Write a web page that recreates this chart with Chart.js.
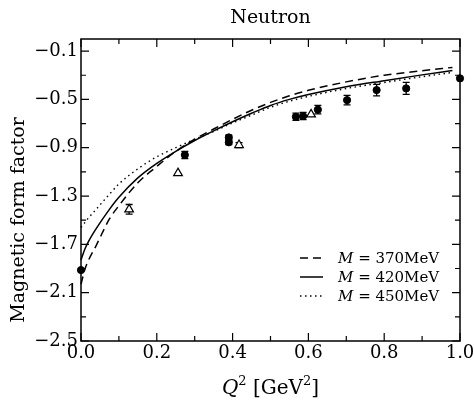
<!DOCTYPE html>
<html>
<head>
<meta charset="utf-8">
<script src="https://cdn.jsdelivr.net/npm/chart.js@4.4.0/dist/chart.umd.min.js"></script>
<style>
  html, body { margin: 0; padding: 0; background: #fff; }
</style>
</head>
<body>
<canvas id="grafico" width="474" height="405"></canvas>
<script>
// Curvas teóricas
const xCurva = [0, 0.01, 0.02, 0.04, 0.075, 0.1, 0.15, 0.2, 0.25, 0.3, 0.35, 0.4, 0.45, 0.5, 0.55, 0.6, 0.7, 0.8, 0.9, 0.98];
const curva370 = [-2.03, -1.91, -1.83, -1.71, -1.49, -1.38, -1.19, -1.055, -0.93, -0.83, -0.745, -0.665, -0.59, -0.525, -0.47, -0.425, -0.355, -0.30, -0.263, -0.235];
const curva420 = [-1.83, -1.74, -1.675, -1.57, -1.41, -1.31, -1.15, -1.03, -0.93, -0.84, -0.76, -0.685, -0.615, -0.55, -0.50, -0.46, -0.395, -0.345, -0.297, -0.26];
const curva450 = [-1.56, -1.52, -1.48, -1.41, -1.285, -1.20, -1.075, -0.975, -0.90, -0.83, -0.765, -0.695, -0.63, -0.565, -0.515, -0.475, -0.41, -0.36, -0.312, -0.277];
const rotulos = ['M = 370MeV', 'M = 420MeV', 'M = 450MeV'];

// Dados experimentais: círculos cheios
const xCirculos = [0, 0.274, 0.39, 0.39, 0.567, 0.586, 0.625, 0.702, 0.78, 0.858, 1.0];
const yCirculos = [-1.913, -0.96, -0.815, -0.855, -0.644, -0.638, -0.585, -0.506, -0.423, -0.409, -0.326];
const erroCirculos = [0, 0.03, 0.02, 0.02, 0.03, 0.03, 0.035, 0.04, 0.048, 0.05, 0];

// Dados experimentais: triângulos abertos
const xTriangulos = [0.127, 0.256, 0.417, 0.607];
const yTriangulos = [-1.41, -1.11, -0.878, -0.624];
const erroTriangulos = [0.04, 0, 0.02, 0];

// Marcas dos eixos
const xTicks = [0, 0.2, 0.4, 0.6, 0.8, 1.0];
const xTicksMenores = [0.1, 0.3, 0.5, 0.7, 0.9];
const yTicks = [-2.5, -2.1, -1.7, -1.3, -0.9, -0.5, -0.1];
const yTicksMenores = [-2.3, -1.9, -1.5, -1.1, -0.7, -0.3];

const fonte = '"DejaVu Serif", serif';
const estilos = [[8, 5], [], [1.5, 3.5]];

const pontos = (xs, ys) => xs.map((x, i) => ({ x: x, y: ys[i] }));

// Barras de erro desenhadas pelas escalas
const barrasErro = {
  id: 'barrasErro',
  beforeDatasetsDraw(chart) {
    const { ctx, scales: { x, y } } = chart;
    ctx.save();
    ctx.strokeStyle = '#000';
    ctx.lineWidth = 1.3;
    chart.data.datasets.forEach(ds => {
      if (!ds.erros) return;
      ds.data.forEach((p, i) => {
        const e = ds.erros[i];
        if (!e) return;
        const px = x.getPixelForValue(p.x);
        const y1 = y.getPixelForValue(p.y + e);
        const y2 = y.getPixelForValue(p.y - e);
        ctx.beginPath();
        ctx.moveTo(px, y1); ctx.lineTo(px, y2);
        ctx.moveTo(px - 3.5, y1); ctx.lineTo(px + 3.5, y1);
        ctx.moveTo(px - 3.5, y2); ctx.lineTo(px + 3.5, y2);
        ctx.stroke();
      });
    });
    ctx.restore();
  }
};

// Moldura, marcas internas, títulos e legenda
const moldura = {
  id: 'moldura',
  afterDraw(chart) {
    const { ctx, chartArea: a, scales: { x, y } } = chart;
    ctx.save();
    ctx.strokeStyle = '#000';
    ctx.lineWidth = 1.5;
    ctx.strokeRect(a.left, a.top, a.right - a.left, a.bottom - a.top);

    ctx.lineWidth = 1.2;
    ctx.beginPath();
    const marcaX = (v, len) => {
      const px = x.getPixelForValue(v);
      ctx.moveTo(px, a.bottom); ctx.lineTo(px, a.bottom - len);
      ctx.moveTo(px, a.top); ctx.lineTo(px, a.top + len);
    };
    const marcaY = (v, len) => {
      const py = y.getPixelForValue(v);
      ctx.moveTo(a.left, py); ctx.lineTo(a.left + len, py);
      ctx.moveTo(a.right, py); ctx.lineTo(a.right - len, py);
    };
    xTicks.forEach(v => marcaX(v, 8));
    xTicksMenores.forEach(v => marcaX(v, 5));
    yTicks.forEach(v => marcaY(v, 8));
    yTicksMenores.forEach(v => marcaY(v, 5));
    ctx.stroke();

    ctx.fillStyle = '#000';
    // título
    ctx.font = '19px ' + fonte;
    ctx.textAlign = 'center';
    ctx.textBaseline = 'alphabetic';
    ctx.fillText('Neutron', (a.left + a.right) / 2, 23);

    // título do eixo y
    ctx.save();
    ctx.translate(19, 220);
    ctx.rotate(-Math.PI / 2);
    ctx.textBaseline = 'middle';
    ctx.font = '19px ' + fonte;
    ctx.fillText('Magnetic form factor', 0, 0);
    ctx.restore();

    // título do eixo x: Q² [GeV²]
    const partes = [
      { t: 'Q', f: 'italic 20px ' + fonte, dy: 0 },
      { t: '2', f: '13px ' + fonte, dy: -9 },
      { t: ' [GeV', f: '20px ' + fonte, dy: 0 },
      { t: '2', f: '13px ' + fonte, dy: -9 },
      { t: ']', f: '20px ' + fonte, dy: 0 }
    ];
    ctx.textAlign = 'left';
    let largura = 0;
    partes.forEach(p => { ctx.font = p.f; p.w = ctx.measureText(p.t).width; largura += p.w; });
    let cx = (a.left + a.right) / 2 - largura / 2;
    partes.forEach(p => { ctx.font = p.f; ctx.fillText(p.t, cx, 394 + p.dy); cx += p.w; });

    // legenda
    const curvas = chart.data.datasets.filter(ds => ds.curva);
    curvas.forEach((ds, i) => {
      const ly = 258 + i * 19;
      ctx.save();
      ctx.lineWidth = ds.borderWidth;
      ctx.setLineDash(ds.borderDash);
      ctx.beginPath();
      ctx.moveTo(300, ly); ctx.lineTo(323, ly);
      ctx.stroke();
      ctx.restore();
      const [m, resto] = [ds.label.slice(0, 1), ds.label.slice(1)];
      ctx.font = 'italic 15px ' + fonte;
      ctx.fillText(m, 338, ly + 5);
      const wm = ctx.measureText(m).width;
      ctx.font = '15px ' + fonte;
      ctx.fillText(resto, 338 + wm, ly + 5);
    });
    ctx.restore();
  }
};

const conjuntosCurvas = [curva370, curva420, curva450].map((c, i) => ({
  label: rotulos[i],
  curva: true,
  data: pontos(xCurva, c),
  showLine: true,
  borderColor: '#000',
  borderWidth: i === 2 ? 1.4 : 1.5,
  borderDash: estilos[i],
  pointRadius: 0,
  tension: 0.3,
  cubicInterpolationMode: 'monotone',
  fill: false
}));

new Chart(document.getElementById('grafico'), {
  type: 'scatter',
  data: {
    datasets: [
      ...conjuntosCurvas,
      {
        label: 'circulos',
        data: pontos(xCirculos, yCirculos),
        erros: erroCirculos,
        pointStyle: 'circle',
        pointRadius: 3.6,
        backgroundColor: '#000',
        borderColor: '#000',
        borderWidth: 1
      },
      {
        label: 'triangulos',
        data: pontos(xTriangulos, yTriangulos),
        erros: erroTriangulos,
        pointStyle: 'triangle',
        pointRadius: 5,
        backgroundColor: '#fff',
        borderColor: '#000',
        borderWidth: 1.2
      }
    ]
  },
  options: {
    responsive: false,
    animation: false,
    clip: false,
    layout: { padding: { top: 39, right: 14, left: 0, bottom: 0 } },
    plugins: {
      legend: { display: false },
      title: { display: false },
      tooltip: { enabled: false }
    },
    scales: {
      x: {
        type: 'linear',
        min: 0,
        max: 1,
        grid: { display: false, drawTicks: false },
        border: { display: false },
        afterBuildTicks: s => { s.ticks = xTicks.map(v => ({ value: v })); },
        afterFit: s => { s.height = 64; s.paddingLeft = 0; s.paddingRight = 0; },
        ticks: {
          autoSkip: false,
          maxRotation: 0,
          padding: 2,
          color: '#000',
          font: { family: fonte, size: 18 },
          callback: v => v.toFixed(1)
        }
      },
      y: {
        type: 'linear',
        min: -2.5,
        max: 0,
        grid: { display: false, drawTicks: false },
        border: { display: false },
        afterBuildTicks: s => { s.ticks = yTicks.map(v => ({ value: v })); },
        afterFit: s => { s.width = 81; s.paddingTop = 0; s.paddingBottom = 0; },
        ticks: {
          autoSkip: false,
          padding: 3,
          color: '#000',
          font: { family: fonte, size: 18 },
          callback: v => '\u2212' + Math.abs(v).toFixed(1)
        }
      }
    }
  },
  plugins: [barrasErro, moldura]
});
</script>
</body>
</html>
